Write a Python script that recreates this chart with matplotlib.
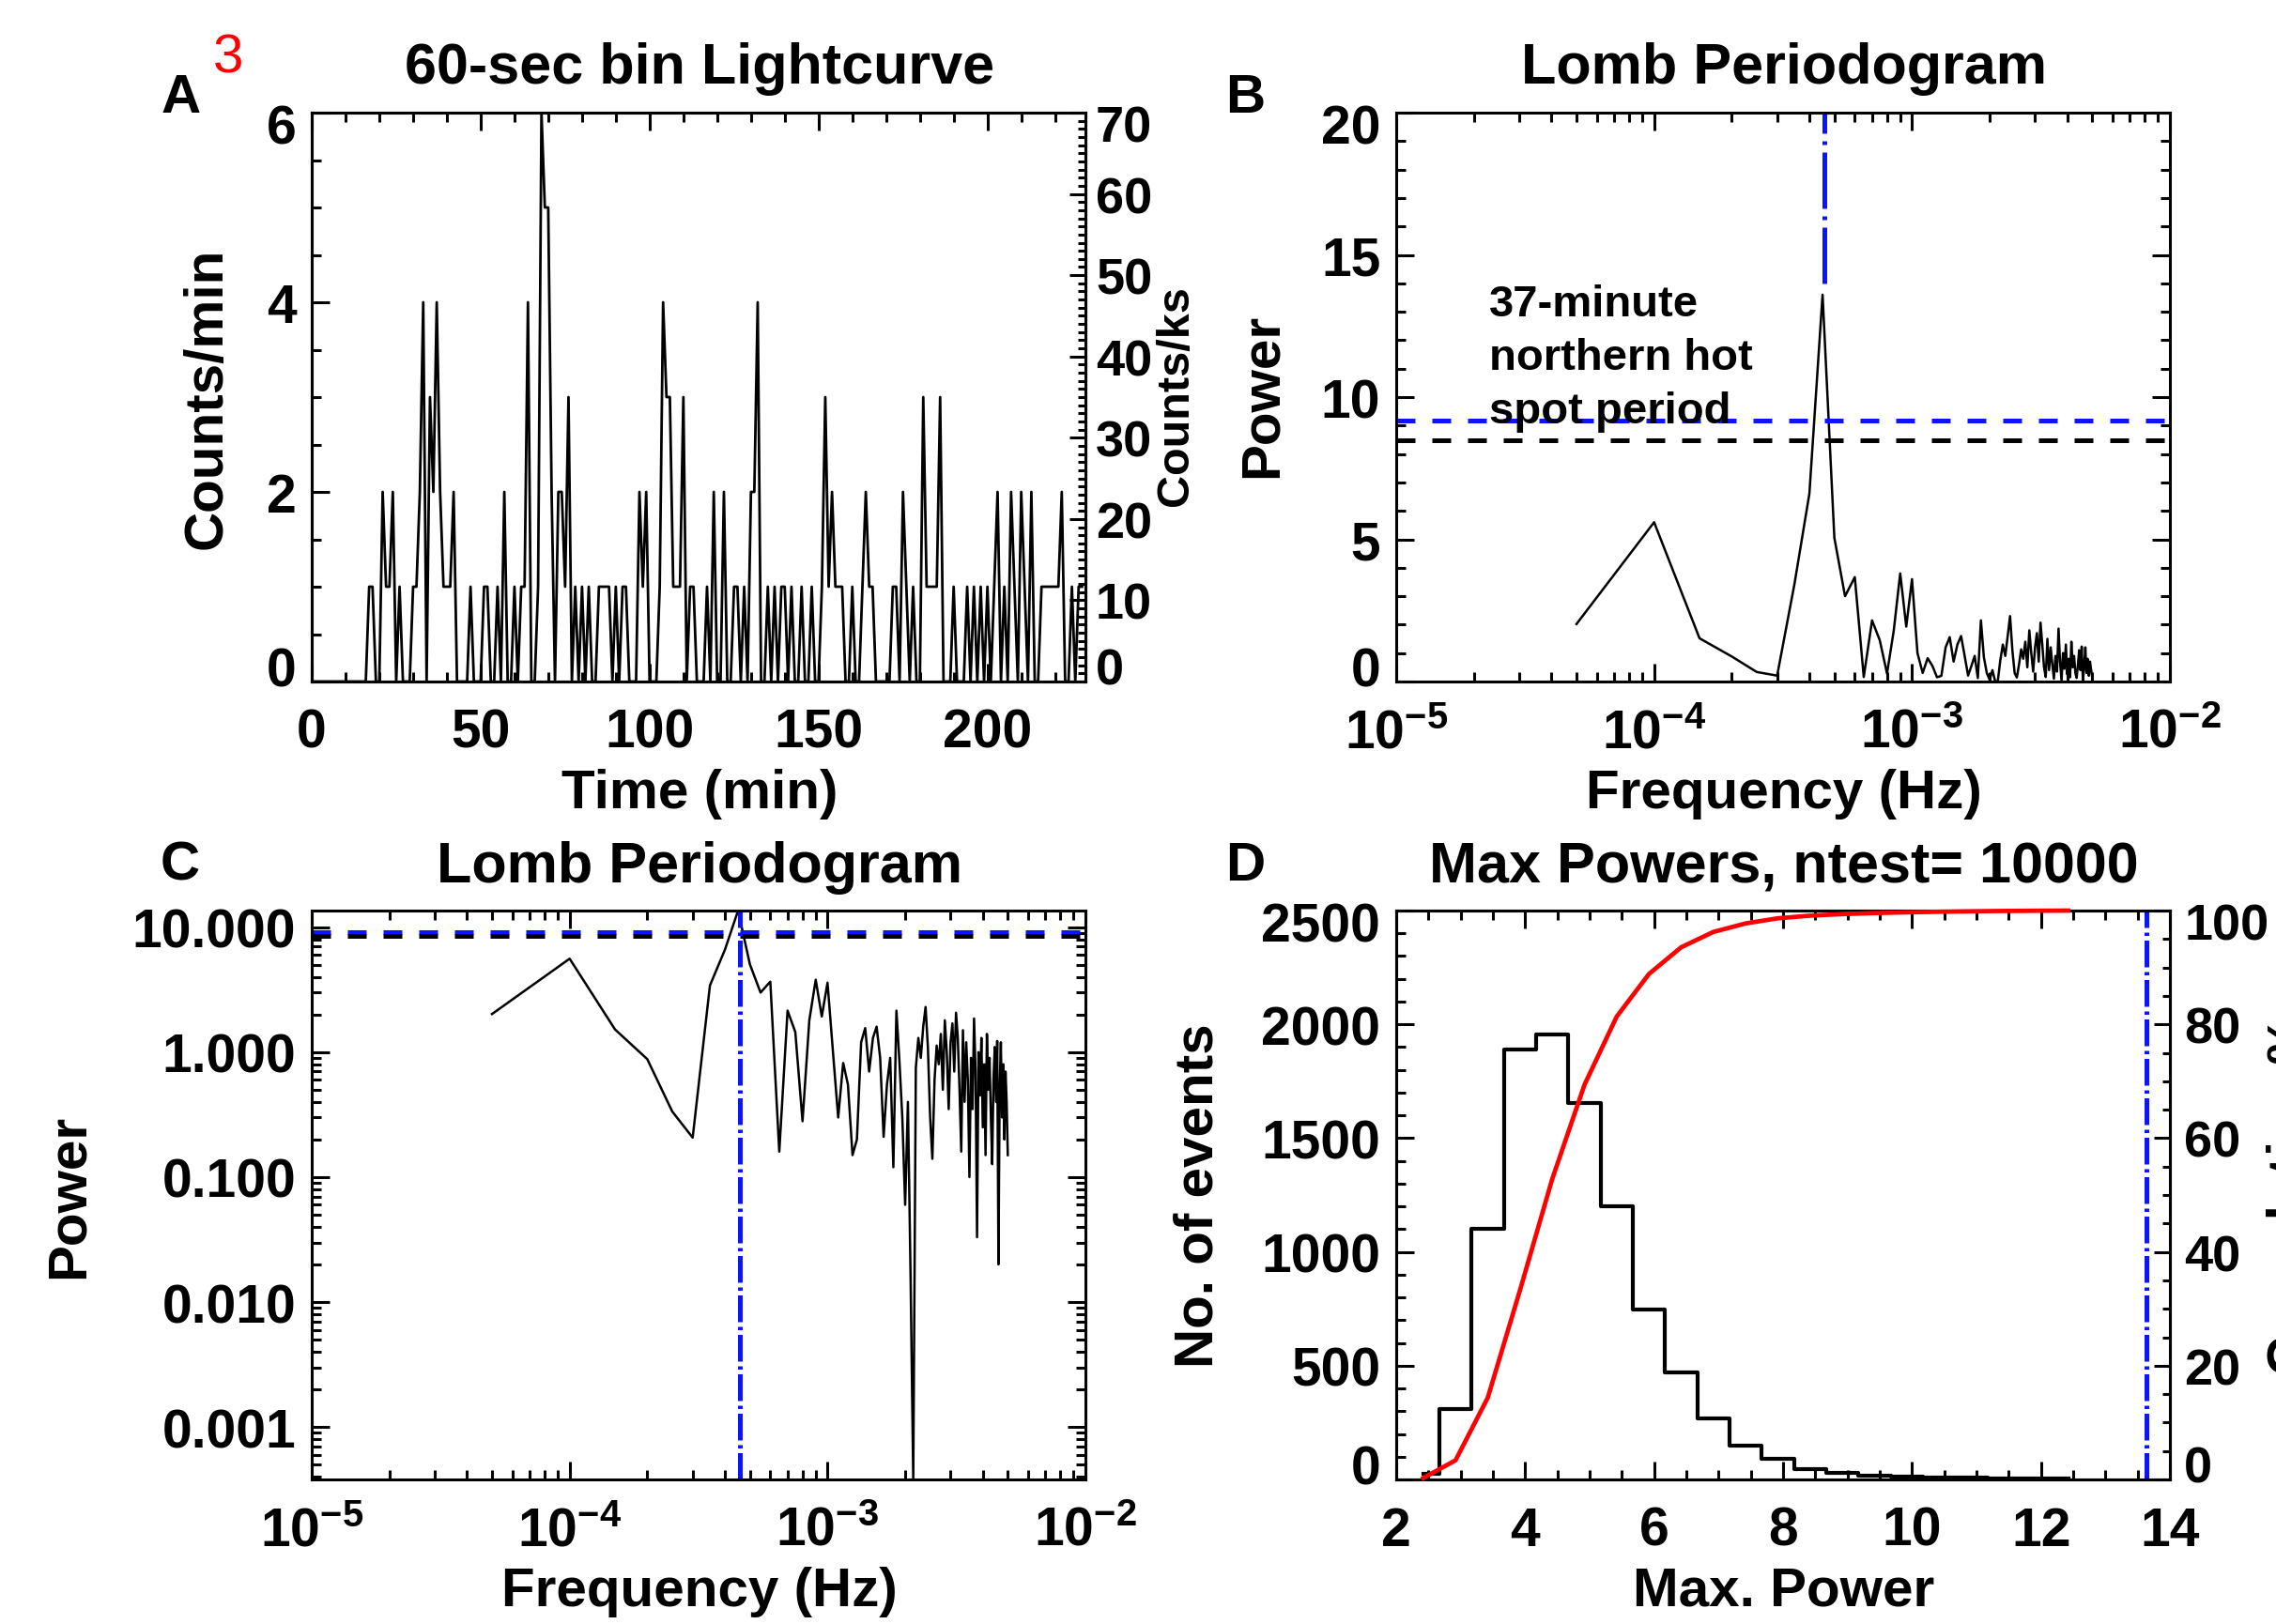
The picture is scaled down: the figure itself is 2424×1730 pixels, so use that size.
import numpy as np
import matplotlib
matplotlib.use("Agg")
import matplotlib.pyplot as plt
import matplotlib.transforms as mtransforms
from matplotlib.ticker import MultipleLocator, LogLocator, FixedLocator, FixedFormatter, FuncFormatter, NullFormatter

plt.rcParams['font.family'] = ['Liberation Sans', 'DejaVu Sans']
plt.rcParams['font.weight'] = 'bold'
plt.rcParams['mathtext.fontset'] = 'custom'
plt.rcParams['mathtext.rm'] = 'Liberation Sans:bold'
plt.rcParams['mathtext.bf'] = 'Liberation Sans:bold'
plt.rcParams['mathtext.default'] = 'bf'
plt.rcParams['axes.linewidth'] = 2.2

# ---- panel A: 60-sec bin lightcurve (counts per minute bin) ----
lc_counts = [
    0, 0, 0, 0, 0, 0, 0, 0, 0, 0,
    0, 0, 0, 0, 0, 0, 0, 1, 1, 0,
    0, 2, 1, 1, 2, 0, 1, 0, 0, 0,
    1, 1, 2, 4, 0, 3, 2, 4, 2, 1,
    1, 1, 2, 0, 0, 0, 0, 1, 0, 0,
    0, 1, 1, 0, 0, 1, 0, 2, 0, 0,
    1, 0, 1, 1, 4, 0, 0, 1, 6, 5,
    5, 2, 0, 2, 2, 1, 3, 0, 1, 0,
    1, 0, 1, 0, 0, 1, 1, 1, 1, 0,
    1, 0, 1, 1, 0, 0, 0, 2, 1, 2,
    0, 0, 0, 1, 4, 3, 3, 1, 1, 1,
    3, 0, 1, 1, 0, 0, 0, 1, 0, 2,
    0, 0, 2, 0, 0, 1, 1, 0, 1, 0,
    2, 2, 4, 0, 0, 1, 0, 1, 0, 1,
    1, 0, 1, 0, 0, 1, 0, 0, 1, 0,
    0, 1, 3, 1, 2, 1, 1, 1, 0, 0,
    1, 0, 0, 1, 2, 1, 1, 0, 0, 0,
    0, 0, 1, 1, 0, 2, 1, 0, 1, 0,
    0, 3, 1, 1, 1, 1, 3, 0, 0, 0,
    1, 0, 0, 0, 1, 0, 1, 0, 1, 0,
    1, 0, 1, 2, 0, 1, 0, 2, 1, 0,
    2, 1, 0, 2, 0, 0, 1, 1, 1, 1,
    1, 1, 2, 0, 0, 1, 0, 1, 1,
]
lc_time = np.arange(len(lc_counts))  # bin start, minutes

# ---- panels B / C: Lomb periodogram ----
freq_step = 5e-5
lomb_power = [
    2.02, 5.6, 1.52, 0.88, 0.335, 0.207, 3.42, 6.6, 13.6, 5.05,
    3.0, 3.67, 0.16, 2.15, 1.45, 0.28, 1.8, 3.8, 1.93, 3.6,
    1.0, 0.30, 0.82, 0.55, 0.15, 0.2, 1.2, 1.56, 0.7, 1.3,
    1.6, 0.9, 0.21, 0.55, 0.9, 0.12, 2.15, 0.85, 0.3, 0.06,
    0.4, 0.015, 0.00038, 0.75, 1.3, 0.9, 1.6, 2.3, 1.1, 0.3,
    0.14, 0.6, 1.13, 0.8, 1.4, 0.5, 1.8, 1.0, 0.35, 1.2,
    1.7, 0.7, 2.07, 1.3, 0.5, 0.16, 1.5, 0.4, 1.2, 0.6,
    0.10, 0.9, 0.35, 1.86, 0.7, 0.033, 1.0, 0.45, 1.3, 0.25,
    0.8, 0.15, 1.4, 0.5, 0.9, 0.3, 0.127, 0.6, 1.1, 0.4,
    1.23, 0.02, 0.5, 1.2, 0.3, 0.8, 0.2, 0.7, 0.4, 0.15,
]
lomb_freq = freq_step * np.arange(1, len(lomb_power) + 1)
sig_blue = 9.17
sig_black = 8.49
peak_freq = 4.56e-4
peak_power = 13.64
vline_bottom_b = 14.0

# ---- panel D: max powers of simulations ----
hist_centers = [2.42, 2.92, 3.42, 3.92, 4.42, 4.92, 5.42, 5.92, 6.42, 6.92, 7.42,
                7.92, 8.42, 8.92, 9.42, 9.92, 10.42, 10.92, 11.42, 11.92, 12.42]
hist_counts = [25, 311, 1101, 1890, 1955, 1655, 1200, 748, 470, 270, 149,
               90, 47, 27, 18, 13, 10, 8, 6, 4, 3]
cum_pct = np.cumsum(hist_counts) / np.sum(hist_counts) * 100

W, H = 2424, 1731
fig = plt.figure(figsize=(W / 100, H / 100), dpi=100)


def box(x0, y0, x1, y1):
    return [x0 / W, 1 - y1 / H, (x1 - x0) / W, (y1 - y0) / H]


def ftext(x, y, s, **kw):
    kw.setdefault('ha', 'center')
    kw.setdefault('va', 'center')
    kw.setdefault('fontsize', 42)
    kw.setdefault('fontweight', 'bold')
    fig.text(x / W, 1 - y / H, s, **kw)


def style(ax, right=True, top=True, lsize=41):
    ax.tick_params(which='both', direction='in', width=2.2, labelsize=lsize,
                   top=top, right=right)
    ax.tick_params(which='major', length=14)
    ax.tick_params(which='minor', length=7)
    ax.tick_params(axis='y', pad=12)
    ax.tick_params(axis='x', pad=20)


def style_right(ax, pad):
    ax.tick_params(which='both', direction='in', width=2.2, labelsize=39, pad=pad)
    ax.tick_params(which='major', length=12)
    ax.tick_params(which='minor', length=6)


def log_x(ax):
    ax.set_xscale('log')
    ax.set_xlim(1e-5, 1e-2)
    ax.xaxis.set_major_locator(FixedLocator([1e-5, 1e-4, 1e-3, 1e-2]))
    ax.xaxis.set_major_formatter(FuncFormatter(lambda v, p: r'$10^{%d}$' % round(np.log10(v))))
    ax.xaxis.set_minor_locator(LogLocator(base=10, subs=np.arange(2, 10)))
    ax.xaxis.set_minor_formatter(NullFormatter())


blue = '#0a14ff'

# A
axA = fig.add_axes(box(332, 121, 1156, 727))
axA.plot(lc_time, lc_counts, color='black', lw=2.0)
axA.set_xlim(0, 229)
axA.set_ylim(0, 6)
axA.xaxis.set_major_locator(MultipleLocator(50))
axA.xaxis.set_minor_locator(MultipleLocator(10))
axA.yaxis.set_major_locator(MultipleLocator(2))
axA.yaxis.set_minor_locator(MultipleLocator(0.5))
style(axA, right=False)
axA2 = axA.twinx()
axA2.set_ylim(0, 70)
axA2.yaxis.set_major_locator(MultipleLocator(10))
axA2.yaxis.set_minor_locator(MultipleLocator(1))
style_right(axA2, 8)

# B
axB = fig.add_axes(box(1487, 121, 2311, 727))
axB.plot(lomb_freq, lomb_power, color='black', lw=1.8)
axB.axhline(sig_blue, color=blue, lw=3.6, ls=(0, (4, 3.6)))
axB.axhline(sig_black, color='black', lw=3.6, ls=(0, (4, 3.6)))
axB.plot([peak_freq, peak_freq], [vline_bottom_b, 20], color=blue, lw=3.6,
         ls=(0, (12, 1.6, 0.8, 1.6)))
log_x(axB)
axB.set_ylim(0, 20)
axB.yaxis.set_major_locator(MultipleLocator(5))
axB.yaxis.set_minor_locator(MultipleLocator(1))
style(axB)
axB.text(0.12, 0.70, '37-minute\nnorthern hot\nspot period', transform=axB.transAxes,
         fontsize=34, fontweight='bold', ha='left', va='top', linespacing=1.38)

# C
axC = fig.add_axes(box(332, 971, 1156, 1577))
axC.plot(lomb_freq, lomb_power, color='black', lw=1.8)
axC.axhline(sig_blue, color=blue, lw=3.6, ls=(0, (4, 3.6)))
axC.axhline(sig_black, color='black', lw=3.6, ls=(0, (4, 3.6)))
axC.axvline(peak_freq, color=blue, lw=3.6, ls=(0, (5.7, 1.0, 0.7, 1.0)))
log_x(axC)
axC.set_yscale('log')
axC.set_ylim(min(lomb_power), max(lomb_power))
axC.yaxis.set_major_locator(FixedLocator([1e-3, 1e-2, 1e-1, 1, 10]))
axC.yaxis.set_major_formatter(FixedFormatter(['0.001', '0.010', '0.100', '1.000', '10.000']))
axC.yaxis.set_minor_locator(LogLocator(base=10, subs=np.arange(2, 10)))
axC.yaxis.set_minor_formatter(NullFormatter())
style(axC)

# D
axD = fig.add_axes(box(1487, 971, 2311, 1577))
axD.step(hist_centers, hist_counts, where='mid', color='black', lw=3.0)
axD.axvline(peak_power, color=blue, lw=3.6, ls=(0, (5.7, 1.0, 0.7, 1.0)))
axD.set_xlim(2, 14)
axD.set_ylim(0, 2500)
axD.xaxis.set_major_locator(MultipleLocator(2))
axD.xaxis.set_minor_locator(MultipleLocator(0.5))
axD.yaxis.set_major_locator(MultipleLocator(500))
axD.yaxis.set_minor_locator(MultipleLocator(100))
style(axD, right=False)
axD2 = axD.twinx()
axD2.plot(hist_centers, cum_pct, color='red', lw=3.4, clip_on=False, zorder=5)
axD2.set_ylim(0, 100)
axD2.yaxis.set_major_locator(MultipleLocator(20))
axD2.yaxis.set_minor_locator(MultipleLocator(5))
style_right(axD2, 11)

# titles, labels, panel letters
ftext(745, 73, '60-sec bin Lightcurve', fontsize=44)
ftext(1900, 73, 'Lomb Periodogram', fontsize=44)
ftext(745, 925, 'Lomb Periodogram', fontsize=44)
ftext(1900, 925, 'Max Powers, ntest= 10000', fontsize=44)
ftext(745, 846, 'Time (min)')
ftext(1900, 846, 'Frequency (Hz)')
ftext(745, 1696, 'Frequency (Hz)')
ftext(1900, 1696, 'Max. Power')
ftext(221, 424, 'Counts/min', rotation=90)
ftext(1252, 422, 'Counts/ks', rotation=90, fontsize=35)
ftext(1345, 421, 'Power', rotation=90)
ftext(74, 1274, 'Power', rotation=90)
ftext(1277, 1274, 'No. of events', rotation=90)
ftext(2413, 1273, 'Cumulative %', rotation=90, ha='left')
ftext(193, 105, 'A')
ftext(1326, 105, 'B')
ftext(192, 923, 'C')
ftext(1326, 923, 'D')
ftext(243, 62, '3', color='red', fontweight='normal', fontsize=42)

# end labels of the y axes sit slightly inside the axis range
fig.canvas.draw()
for ax in [axA, axA2, axB, axD, axD2]:
    lo, hi = ax.get_ylim()
    for tick in ax.yaxis.get_major_ticks():
        loc = tick.get_loc()
        if np.isclose(loc, hi):
            dy = -8 / 72
        elif np.isclose(loc, lo):
            dy = 12 / 72
        else:
            continue
        off = mtransforms.ScaledTranslation(0, dy, fig.dpi_scale_trans)
        for lab in (tick.label1, tick.label2):
            lab.set_transform(lab.get_transform() + off)

fig.savefig('out.png', dpi=100)
